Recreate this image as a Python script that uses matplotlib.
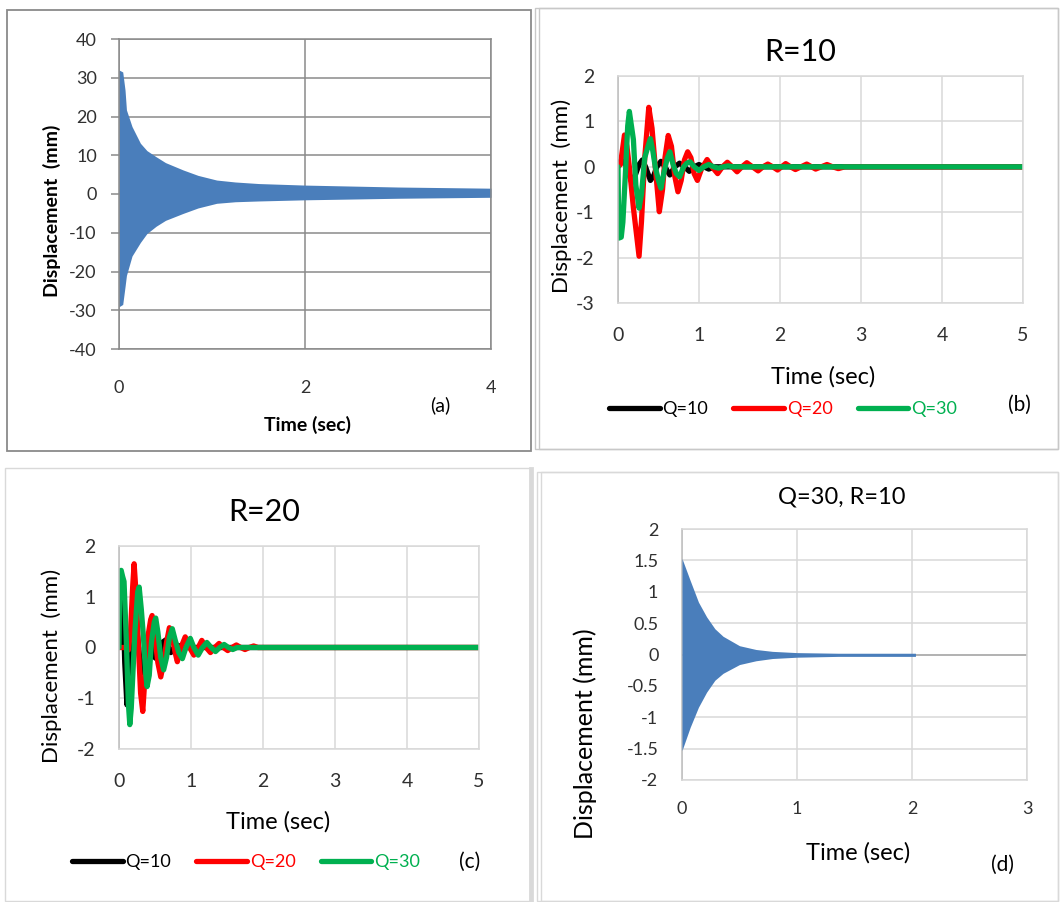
import matplotlib
matplotlib.use('Agg')
import matplotlib.pyplot as plt
from matplotlib.patches import Rectangle

plt.rcParams['font.family'] = ['Lato', 'DejaVu Sans']
plt.rcParams['axes.unicode_minus'] = False

W, H = 1060, 902

# (a) envelope of the dense response, mm
t_a = [0.0, 0.04, 0.065, 0.08, 0.14, 0.23, 0.30, 0.40, 0.50, 0.69, 0.85, 1.05, 1.25, 1.5,
       2.0, 3.0, 4.0]
upper_a = [32.0, 31.5, 26.8, 21.7, 17.4, 13.1, 11.2, 9.6, 8.1, 6.2, 4.8, 3.6, 3.1, 2.7,
           2.3, 1.8, 1.5]
lower_a = [-29.1, -28.5, -23.9, -21.0, -16.0, -12.5, -10.2, -8.3, -6.8, -5.0, -3.6, -2.4,
           -2.0, -1.8, -1.5, -1.1, -0.85]

# (b) R=10
t_b20 = [0.00, 0.03, 0.08, 0.11, 0.14, 0.19, 0.26, 0.29, 0.33, 0.38, 0.42, 0.46, 0.51, 0.55,
         0.58, 0.62, 0.66, 0.70, 0.74, 0.78, 0.82, 0.86, 0.90, 0.94, 0.98, 1.03, 1.10, 1.16,
         1.23, 1.29, 1.35, 1.41, 1.47, 1.53, 1.59, 1.66, 1.73, 1.79, 1.85, 1.91, 1.97, 2.02,
         2.07, 2.13, 2.19, 2.26, 2.33, 2.39, 2.44, 2.51, 2.58, 2.65, 2.72, 2.80, 5.00]
v_b20 = [0.00, 0.05, 0.70, 0.45, 0.00, -0.90, -1.97, -1.20, 0.20, 1.31, 0.85, 0.00, -0.99, -0.50,
         0.20, 0.69, 0.45, -0.20, -0.55, -0.30, 0.15, 0.33, 0.20, -0.15, -0.30, -0.05, 0.16, 0.00,
         -0.15, 0.00, 0.10, 0.00, -0.11, 0.00, 0.09, 0.00, -0.09, 0.00, 0.06, 0.00, -0.07, 0.00,
         0.07, 0.00, -0.06, 0.00, 0.06, 0.00, -0.05, 0.00, 0.05, 0.00, -0.04, 0.00, 0.00]
t_b30 = [0.00, 0.01, 0.04, 0.06, 0.09, 0.12, 0.14, 0.17, 0.19, 0.22, 0.26, 0.29, 0.33, 0.37,
         0.40, 0.43, 0.46, 0.50, 0.53, 0.57, 0.61, 0.64, 0.68, 0.72, 0.76, 0.81, 0.85, 0.89,
         0.94, 1.00, 1.06, 1.12, 1.18, 1.24, 1.30, 1.36, 1.42, 5.00]
v_b30 = [0.00, -1.57, -1.55, -1.22, -0.20, 0.90, 1.22, 0.85, 0.60, -0.40, -0.91, -0.60, 0.20, 0.45,
         0.62, 0.35, 0.00, -0.30, -0.47, -0.10, 0.20, 0.33, 0.05, -0.15, -0.22, 0.00, 0.08, 0.11,
         0.00, -0.08, 0.00, 0.05, 0.00, -0.03, 0.00, 0.02, 0.00, 0.00]
t_b10 = [0.00, 0.04, 0.08, 0.12, 0.17, 0.21, 0.26, 0.30, 0.34, 0.40, 0.44, 0.48, 0.53, 0.58,
         0.64, 0.70, 0.76, 0.82, 0.88, 0.94, 1.00, 1.06, 1.12, 1.20, 5.00]
v_b10 = [0.00, 0.15, 0.10, -0.05, -0.35, -0.20, 0.05, 0.15, 0.00, -0.30, -0.20, 0.00, 0.12, 0.00,
         -0.18, 0.00, 0.08, 0.00, -0.10, 0.00, 0.05, 0.00, -0.05, 0.00, 0.00]

# (c) R=20
t_c30 = [0.00, 0.01, 0.03, 0.05, 0.07, 0.10, 0.13, 0.15, 0.17, 0.19, 0.22, 0.26, 0.28, 0.31,
         0.34, 0.37, 0.39, 0.42, 0.45, 0.49, 0.51, 0.54, 0.58, 0.62, 0.66, 0.70, 0.74, 0.78,
         0.83, 0.88, 0.93, 0.99, 1.04, 1.10, 1.16, 1.22, 1.28, 1.34, 1.40, 1.46, 1.52, 1.58,
         1.64, 5.00]
v_c30 = [0.00, 1.50, 1.52, 1.40, 1.30, 0.20, -1.10, -1.52, -1.20, -0.60, 0.30, 1.10, 1.19, 0.75,
         0.20, -0.50, -0.77, -0.55, 0.10, 0.50, 0.58, 0.30, -0.20, -0.44, -0.20, 0.20, 0.37, 0.15,
         -0.10, -0.22, 0.00, 0.18, 0.00, -0.15, 0.00, 0.10, 0.00, -0.08, 0.00, 0.06, 0.00, -0.04,
         0.00, 0.00]
t_c20 = [0.00, 0.10, 0.13, 0.16, 0.19, 0.21, 0.24, 0.27, 0.30, 0.33, 0.36, 0.40, 0.44, 0.46,
         0.50, 0.54, 0.58, 0.62, 0.66, 0.70, 0.74, 0.78, 0.81, 0.86, 0.92, 0.98, 1.04, 1.10,
         1.15, 1.21, 1.27, 1.33, 1.39, 1.45, 1.51, 1.57, 1.63, 1.69, 1.75, 1.81, 1.87, 1.93, 5.00]
v_c20 = [0.00, 0.00, -0.05, 0.30, 1.20, 1.65, 1.00, 0.00, -0.90, -1.26, -0.60, 0.20, 0.55, 0.63,
         0.20, -0.30, -0.58, -0.30, 0.10, 0.39, 0.20, -0.10, -0.28, 0.00, 0.21, 0.00, -0.15, 0.00,
         0.14, 0.00, -0.10, 0.00, 0.08, 0.00, -0.06, 0.00, 0.05, 0.00, -0.04, 0.00, 0.03, 0.00, 0.00]
t_c10 = [0.00, 0.01, 0.03, 0.05, 0.08, 0.11, 0.14, 0.18, 0.22, 0.26, 0.30, 0.34, 0.38, 0.42,
         0.46, 0.50, 0.55, 0.60, 0.65, 0.72, 0.80, 0.90, 5.00]
v_c10 = [0.00, 1.50, 1.45, 1.20, -0.30, -1.13, -0.60, 0.40, 0.70, 0.20, -0.40, -0.50, 0.00, 0.30,
         0.20, -0.20, -0.25, 0.10, 0.15, -0.10, 0.05, 0.00, 0.00]

# (d) Q=30, R=10 envelope
t_d = [0.0, 0.071, 0.143, 0.214, 0.286, 0.357, 0.5, 0.643, 0.786, 1.0, 1.36, 2.03]
upper_d = [1.53, 1.18, 0.835, 0.60, 0.41, 0.29, 0.14, 0.08, 0.05, 0.03, 0.02, 0.02]
lower_d = [-1.53, -1.16, -0.84, -0.60, -0.41, -0.30, -0.16, -0.10, -0.064, -0.043, -0.03, -0.03]

blue = '#4a7ebb'
q_colors = {'Q=10': 'black', 'Q=20': '#ff0000', 'Q=30': '#00b050'}
tick_col = '#303030'


def fx(x):
    return x / W


def fy(y):
    return 1 - y / H


def box(x0, y0, x1, y1):
    return [fx(x0), fy(y1), (x1 - x0) / W, (y1 - y0) / H]


def ftext(x, y, s, **kw):
    kw.setdefault('ha', 'center')
    kw.setdefault('va', 'center')
    fig.text(fx(x), fy(y), s, **kw)


def frame(x0, y0, x1, y1, col, lw=1.2):
    fig.add_artist(Rectangle((fx(x0), fy(y1)), (x1 - x0) / W, (y1 - y0) / H,
                             transform=fig.transFigure, fill=False, ec=col, lw=lw))


def style(ax, grid_col, spine_col, size, xpad, ypad):
    ax.grid(True, color=grid_col, lw=1.1)
    ax.set_axisbelow(True)
    for s in ax.spines.values():
        s.set_color(grid_col)
        s.set_linewidth(1.1)
    ax.spines['left'].set_color(spine_col)
    ax.tick_params(axis='x', length=0, pad=xpad, labelsize=size, colors=tick_col)
    ax.tick_params(axis='y', length=0, pad=ypad, labelsize=size, colors=tick_col)


fig = plt.figure(figsize=(W / 100, H / 100), dpi=100)

# panel frames
frame(7, 10, 531, 451, '#8a8a8a', 1.3)
frame(535, 8, 1058, 449, '#c8c8c8', 1.0)
frame(539, 8, 1058, 449, '#c8c8c8', 1.0)
frame(5, 468, 530, 901, '#d9d9d9', 1.0)
frame(530, 468, 532, 901, '#d9d9d9', 2.0)
frame(537, 472, 1058, 901, '#d9d9d9', 1.0)
frame(541, 472, 1058, 901, '#d9d9d9', 1.0)

# (a)
ax = fig.add_axes(box(119, 39, 491, 349))
ax.fill_between(t_a, lower_a, upper_a, color=blue, lw=0)
ax.set_xlim(0, 4)
ax.set_ylim(-40, 40)
ax.set_xticks([0, 2, 4])
ax.set_yticks(range(-40, 41, 10))
style(ax, '#8a8a8a', '#8a8a8a', 13, 22, 10)
ax.tick_params(axis='y', length=6, width=1.1, color='#8a8a8a')
ftext(52, 211, 'Displacement  (mm)', rotation=90, fontsize=14, fontweight='bold')
ftext(308, 425, 'Time (sec)', fontsize=14, fontweight='bold')
ftext(440, 405, '(a)', fontsize=14)


def q_panel(rect, series, ylim, yticks, title, title_xy, ylab_xy, xlab_xy, leg_xy, tag, tag_xy):
    ax = fig.add_axes(rect)
    for name, t, v in series:
        ax.plot(t, v, color=q_colors[name], lw=3.8, label=name,
                solid_joinstyle='round', solid_capstyle='round')
    ax.set_xlim(0, 5)
    ax.set_ylim(*ylim)
    ax.set_xticks(range(6))
    ax.set_yticks(yticks)
    style(ax, '#d9d9d9', '#bdbdbd', 14, 17, 17)
    ftext(*title_xy, title, fontsize=22)
    ftext(*ylab_xy, 'Displacement  (mm)', rotation=90, fontsize=16)
    ftext(*xlab_xy, 'Time (sec)', fontsize=17)
    ftext(*tag_xy, tag, fontsize=15)
    ax.legend(loc='center', bbox_to_anchor=(fx(leg_xy[0]), fy(leg_xy[1])),
              bbox_transform=fig.transFigure, ncol=3, frameon=False, fontsize=13,
              labelcolor='linecolor', handlelength=2.8, handletextpad=0.15,
              columnspacing=1.4, borderpad=0)


q_panel(box(618, 76, 1023, 303),
        [('Q=10', t_b10, v_b10), ('Q=20', t_b20, v_b20), ('Q=30', t_b30, v_b30)],
        (-3, 2), range(-3, 3), 'R=10', (800, 52), (562, 196), (823, 377),
        (783, 409), '(b)', (1019, 405))

q_panel(box(119, 546, 479, 749),
        [('Q=10', t_c10, v_c10), ('Q=20', t_c20, v_c20), ('Q=30', t_c30, v_c30)],
        (-2, 2), range(-2, 3), 'R=20', (264, 512), (52, 666), (278, 822),
        (246, 862), '(c)', (470, 862))

# (d)
ax = fig.add_axes(box(682, 529, 1027, 780))
ax.fill_between(t_d, lower_d, upper_d, color=blue, lw=0, zorder=3)
ax.axhline(0, color='#a6a6a6', lw=1.1, zorder=2)
ax.set_xlim(0, 3)
ax.set_ylim(-2, 2)
ax.set_xticks(range(4))
ax.set_yticks([-2, -1.5, -1, -0.5, 0, 0.5, 1, 1.5, 2])
ax.set_yticklabels(['-2', '-1.5', '-1', '-0.5', '0', '0.5', '1', '1.5', '2'])
style(ax, '#d9d9d9', '#bdbdbd', 13, 15, 17)
ftext(842, 497, 'Q=30, R=10', fontsize=17)
ftext(585, 734, 'Displacement (mm)', rotation=90, fontsize=18)
ftext(858, 853, 'Time (sec)', fontsize=17)
ftext(1003, 865, '(d)', fontsize=15)

fig.savefig('out.png', dpi=100)
